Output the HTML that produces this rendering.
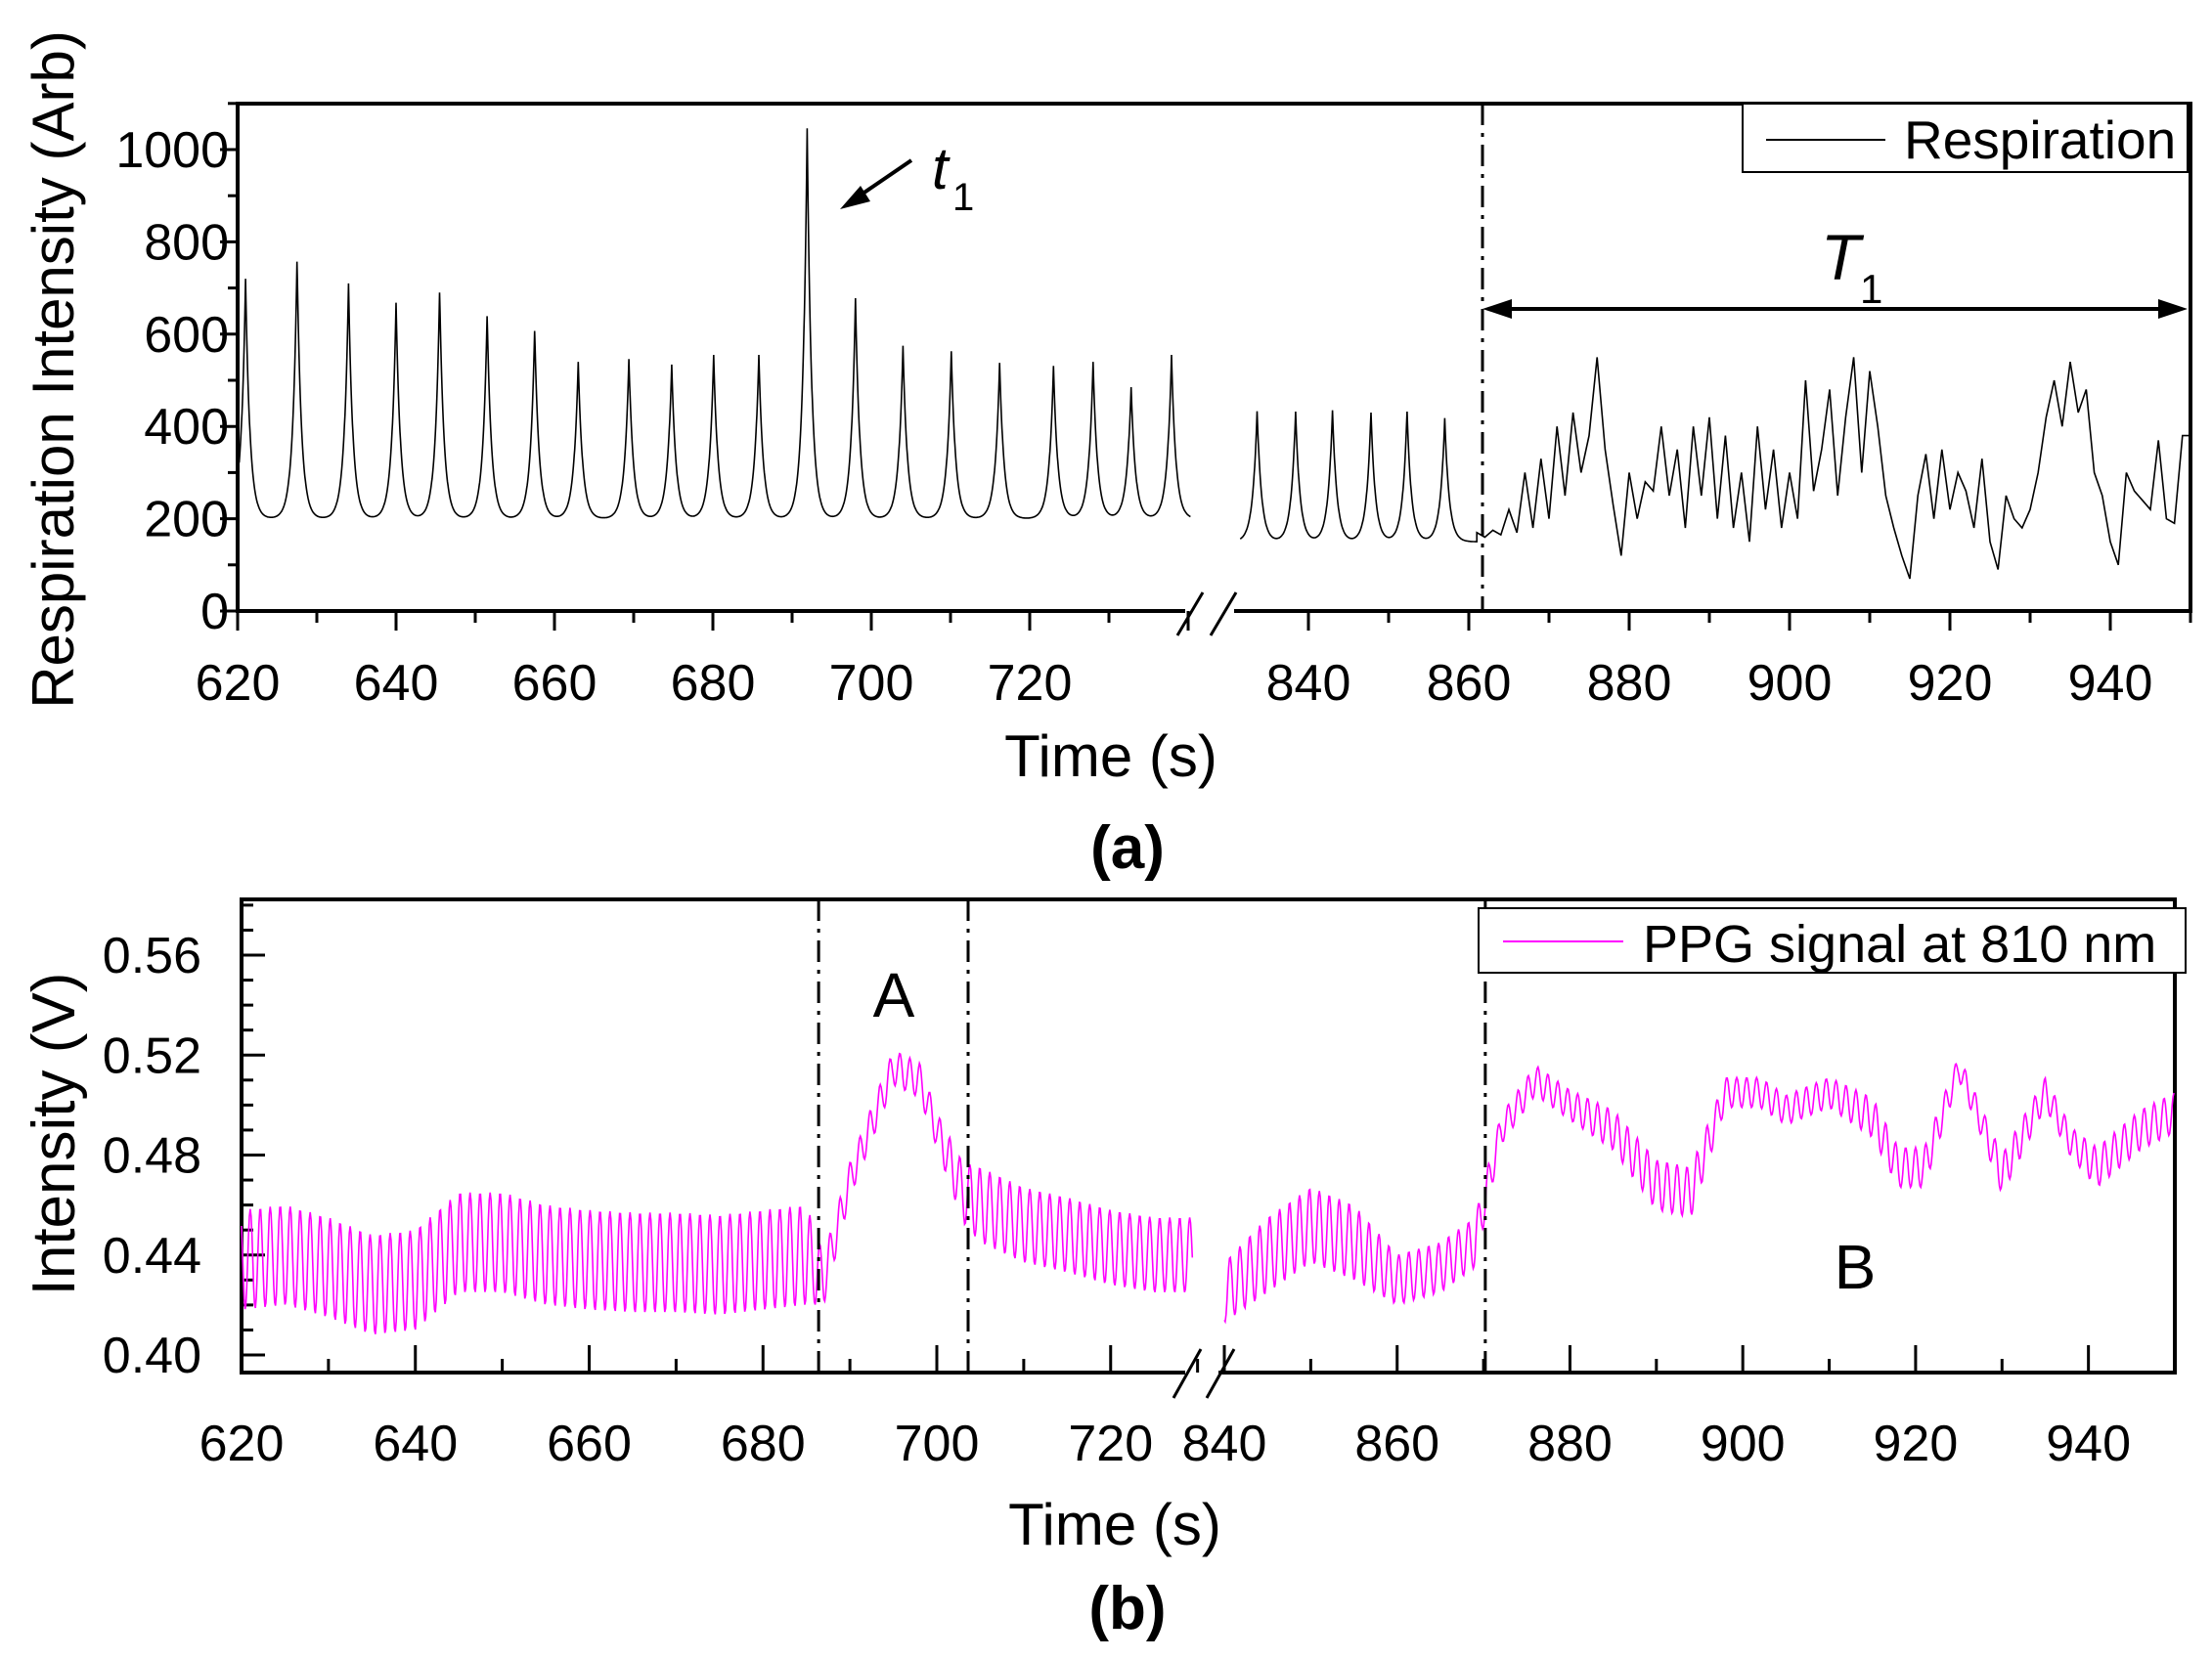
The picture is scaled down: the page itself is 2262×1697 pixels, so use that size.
<!DOCTYPE html>
<html><head><meta charset="utf-8"><style>
html,body{margin:0;padding:0;background:#fff}
svg{display:block}
text{font-family:"Liberation Sans",Arial,sans-serif;fill:#000}
</style></head><body>
<svg id="chart" width="2262" height="1697" viewBox="0 0 2262 1697" xmlns="http://www.w3.org/2000/svg">
<g id="pa"></g>
<g id="pb"></g>
</svg>
<script>
// ---------- Panel (a) data ----------
const respPeakTimesL = [621,627.5,634,640,645.5,651.5,657.5,663,669.4,674.8,680.1,685.8,691.9,698,704,710.1,716.2,723,728,732.8,737.9];
const respPeakValsL  = [720,757,710,668,690,639,607,540,546,534,555,555,1046,678,575,563,538,531,540,485,555];
const respPeakTimesR = [833.6,838.4,843,847.8,852.3,857];
const respPeakValsR  = [433,432,435,430,432,418];
const respChaosTimes = [861,862,863,864,865,866,867,868,869,870,871,872,873,874,875,876,877,878,879,880,881,882,883,884,885,886,887,888,889,890,891,892,893,894,895,896,897,898,899,900,901,902,903,904,905,906,907,908,909,910,911,912,913,914,915,916,917,918,919,920,921,922,923,924,925,926,927,928,929,930,931,932,933,934,935,936,937,938,939,940,941,942,943,944,945,946,947,948,949,950];
const respChaosVals  = [170,160,175,165,220,170,300,180,330,200,400,250,430,300,380,550,350,230,120,300,200,280,260,400,250,350,180,400,250,420,200,380,180,300,150,400,220,350,180,300,200,500,260,350,480,250,420,550,300,520,400,250,180,120,70,250,340,200,350,220,300,260,180,330,150,90,250,200,180,220,300,420,500,400,540,430,480,300,250,150,100,300,260,240,220,370,200,190,380,380];
const aXTicksL = [620,640,660,680,700,720];
const aXTicksR = [840,860,880,900,920,940];
const aYTicks = [0,200,400,600,800,1000];

// ---------- Panel (b) data ----------
const ppgTimesL = [620,625,630,635,640,645,650,655,660,665,670,675,680,685,687,690,695,698,700,703,705,710,715,720,725,730];
const ppgMidL   = [0.438,0.44,0.435,0.428,0.43,0.445,0.445,0.44,0.438,0.437,0.437,0.436,0.438,0.44,0.43,0.47,0.515,0.51,0.49,0.465,0.46,0.452,0.448,0.443,0.44,0.44];
const ppgAmpL   = [0.02,0.02,0.02,0.02,0.02,0.02,0.02,0.02,0.02,0.02,0.02,0.02,0.02,0.02,0.01,0.007,0.007,0.007,0.007,0.012,0.015,0.015,0.015,0.015,0.015,0.015];
const ppgTimesR = [840,845,850,855,860,865,869,872,876,880,885,890,894,898,902,905,910,915,918,921,925,928,930,935,938,941,946,950];
const ppgMidR   = [0.425,0.44,0.452,0.445,0.43,0.435,0.445,0.49,0.51,0.5,0.49,0.468,0.465,0.505,0.505,0.498,0.505,0.495,0.475,0.475,0.515,0.49,0.472,0.505,0.485,0.475,0.49,0.497];
const ppgAmpR   = [0.012,0.015,0.015,0.015,0.01,0.01,0.01,0.006,0.006,0.006,0.008,0.01,0.01,0.006,0.006,0.006,0.006,0.008,0.008,0.008,0.005,0.006,0.008,0.006,0.006,0.008,0.008,0.008];
const bXTicksL = [620,640,660,680,700,720];
const bXTicksR = [840,860,880,900,920,940];
const bYTicks = [0.40,0.44,0.48,0.52,0.56];

const NS="http://www.w3.org/2000/svg";
function mk(parent,tag,attrs,txt){const e=document.createElementNS(NS,tag);for(const k in attrs)e.setAttribute(k,attrs[k]);if(txt!==undefined)e.textContent=txt;parent.appendChild(e);return e;}
function interp(ts,vs,t){if(t<=ts[0])return vs[0];for(let i=1;i<ts.length;i++){if(t<=ts[i]){const f=(t-ts[i-1])/(ts[i]-ts[i-1]);return vs[i-1]+f*(vs[i]-vs[i-1]);}}return vs[vs.length-1];}
const TF=52;

// ===== Panel A =====
const pa=document.getElementById('pa');
const A={l:243,r:2240,t:106,b:625};
function axL(t){return 243+(t-620)*(1215-243)/120;}
function axR(t){return 1256+(t-830)*(2240-1256)/120;}
function ay(v){return 625-v*0.472;}
let e;
e=mk(pa,'path',{d:`M${A.l},${A.b} V${A.t} H${A.r} V${A.b}`,fill:'none',stroke:'#000','stroke-width':4});

e=mk(pa,'line',{x1:A.l-2,y1:A.b,x2:1212,y2:A.b,stroke:'#000','stroke-width':4});

e=mk(pa,'line',{x1:1262,y1:A.b,x2:A.r+2,y2:A.b,stroke:'#000','stroke-width':4});

e=mk(pa,'path',{d:`M1204,650 L1230,606 M1238,650 L1264,606`,stroke:'#000','stroke-width':3,fill:'none'});

for(let t=620;t<=740;t+=10){const x=axL(t);const maj=t%20===0;mk(pa,'line',{x1:x,y1:A.b,x2:x,y2:A.b+(maj?20:12),stroke:'#000','stroke-width':3});}
for(let t=840;t<=950;t+=10){const x=axR(t);const maj=t%20===0;mk(pa,'line',{x1:x,y1:A.b,x2:x,y2:A.b+(maj?20:12),stroke:'#000','stroke-width':3});}
aXTicksL.forEach(t=>{e=mk(pa,'text',{x:axL(t),y:716,'font-size':TF,'text-anchor':'middle'},t);});
aXTicksR.forEach(t=>{e=mk(pa,'text',{x:axR(t),y:716,'font-size':TF,'text-anchor':'middle'},t);});
for(let v=0;v<=1100;v+=100){const y=ay(v);mk(pa,'line',{x1:A.l,y1:y,x2:A.l-(v%200===0?18:10),y2:y,stroke:'#000','stroke-width':3});}
aYTicks.forEach(v=>{e=mk(pa,'text',{x:234,y:ay(v)+18,'font-size':TF,'text-anchor':'end'},v);});
e=mk(pa,'text',{x:0,y:0,'font-size':60,'text-anchor':'middle',transform:'translate(75,378) rotate(-90)'},'Respiration Intensity (Arb)');

e=mk(pa,'text',{x:1136,y:794,'font-size':60,'text-anchor':'middle'},'Time (s)');

e=mk(pa,'text',{x:1153,y:888,'font-size':62,'font-weight':'bold','text-anchor':'middle'},'(a)');

function peakSum(t,pts,pvs,base){let v=base;for(let i=0;i<pts.length;i++){const d=Math.abs(t-pts[i]);v+=(pvs[i]-base)*Math.exp(-d/0.55);}return v;}
let d='';
for(let t=620.2;t<=740.3;t+=0.05){d+=(d?'L':'M')+axL(t).toFixed(1)+','+ay(peakSum(t,respPeakTimesL,respPeakValsL,200)).toFixed(1);}
e=mk(pa,'path',{d:d,fill:'none',stroke:'#000','stroke-width':1.6});

d='';
for(let t=831.5;t<=861;t+=0.05){d+=(d?'L':'M')+axR(t).toFixed(1)+','+ay(peakSum(t,respPeakTimesR,respPeakValsR,150)).toFixed(1);}
for(let i=0;i<respChaosTimes.length;i++){d+='L'+axR(respChaosTimes[i]).toFixed(1)+','+ay(respChaosVals[i]).toFixed(1);}
e=mk(pa,'path',{d:d,fill:'none',stroke:'#000','stroke-width':1.6});

e=mk(pa,'line',{x1:1516,y1:A.t,x2:1516,y2:A.b,stroke:'#000','stroke-width':3,'stroke-dasharray':'22,8,4,8'});

e=mk(pa,'rect',{x:1782,y:106,width:455,height:70,fill:'#fff',stroke:'#000','stroke-width':2});

mk(pa,'line',{x1:1806,y1:143,x2:1928,y2:143,stroke:'#000','stroke-width':2});
e=mk(pa,'text',{x:1947,y:162,'font-size':55},'Respiration');

e=mk(pa,'line',{x1:932,y1:164,x2:872,y2:205,stroke:'#000','stroke-width':4});

mk(pa,'polygon',{points:'859,214 880,190 890,206',fill:'#000'});
e=mk(pa,'text',{x:953,y:193,'font-size':60,'font-style':'italic','font-family':'Liberation Serif,serif'},'t');

mk(pa,'text',{x:974,y:215,'font-size':40,'font-family':'Liberation Serif,serif'},'1');
e=mk(pa,'line',{x1:1530,y1:316,x2:2222,y2:316,stroke:'#000','stroke-width':4});

mk(pa,'polygon',{points:'1516,316 1546,306 1546,326',fill:'#000'});
mk(pa,'polygon',{points:'2237,316 2207,306 2207,326',fill:'#000'});
e=mk(pa,'text',{x:1862,y:286,'font-size':66,'font-style':'italic','font-family':'Liberation Serif,serif'},'T');

mk(pa,'text',{x:1902,y:310,'font-size':42,'font-family':'Liberation Serif,serif'},'1');

// ===== Panel B =====
const pb=document.getElementById('pb');
const B={l:247,r:2224,t:920,b:1404};
function bxL(t){return 247+(t-620)*(958-247)/80;}
function bxR(t){return 1252+(t-840)*(2224-1252)/110;}
function by(v){return 1386-(v-0.40)*(1386-977)/0.16;}
e=mk(pb,'path',{d:`M${B.l},${B.b} V${B.t} H${B.r} V${B.b}`,fill:'none',stroke:'#000','stroke-width':4});

e=mk(pb,'line',{x1:B.l-2,y1:B.b,x2:1212,y2:B.b,stroke:'#000','stroke-width':4});

e=mk(pb,'line',{x1:1246,y1:B.b,x2:B.r+2,y2:B.b,stroke:'#000','stroke-width':4});

e=mk(pb,'path',{d:`M1200,1430 L1228,1380 M1234,1430 L1262,1380`,stroke:'#000','stroke-width':3,fill:'none'});

for(let t=620;t<=730;t+=10){const x=bxL(t);const maj=t%20===0;mk(pb,'line',{x1:x,y1:B.b,x2:x,y2:B.b-(maj?28:14),stroke:'#000','stroke-width':3});}
for(let t=840;t<=950;t+=10){const x=bxR(t);const maj=t%20===0;mk(pb,'line',{x1:x,y1:B.b,x2:x,y2:B.b-(maj?28:14),stroke:'#000','stroke-width':3});}
bXTicksL.forEach(t=>{e=mk(pb,'text',{x:bxL(t),y:1494,'font-size':TF,'text-anchor':'middle'},t);});
bXTicksR.forEach(t=>{e=mk(pb,'text',{x:bxR(t),y:1494,'font-size':TF,'text-anchor':'middle'},t);});
for(let v=0.39;v<=0.585;v+=0.01){const y=by(v);if(y<B.t||y>B.b)continue;const maj=Math.abs(Math.round(v*100)%4)===0;mk(pb,'line',{x1:B.l,y1:y,x2:B.l+(maj?24:12),y2:y,stroke:'#000','stroke-width':3});}
bYTicks.forEach(v=>{e=mk(pb,'text',{x:206,y:by(v)+18,'font-size':TF,'text-anchor':'end'},v.toFixed(2));});
e=mk(pb,'text',{x:0,y:0,'font-size':62,'text-anchor':'middle',transform:'translate(76,1160) rotate(-90)'},'Intensity (V)');

e=mk(pb,'text',{x:1140,y:1580,'font-size':60,'text-anchor':'middle'},'Time (s)');

e=mk(pb,'text',{x:1153,y:1666,'font-size':62,'font-weight':'bold','text-anchor':'middle'},'(b)');

function ppgPath(t0,t1,ts,ms,as,xf){let s='';for(let t=t0;t<=t1;t+=0.1){const v=interp(ts,ms,t)+interp(ts,as,t)*Math.cos(2*Math.PI*t/1.15);s+=(s?'L':'M')+xf(t).toFixed(1)+','+by(v).toFixed(1);}return s;}
e=mk(pb,'path',{d:ppgPath(620,729.5,ppgTimesL,ppgMidL,ppgAmpL,bxL),fill:'none',stroke:'#ff00ff','stroke-width':1.6});

e=mk(pb,'path',{d:ppgPath(840,950,ppgTimesR,ppgMidR,ppgAmpR,bxR),fill:'none',stroke:'#ff00ff','stroke-width':1.6});

[bxL(686.4),bxL(703.6),bxR(870.2)].forEach((x,i)=>{e=mk(pb,'line',{x1:x,y1:B.t,x2:x,y2:B.b,stroke:'#000','stroke-width':3,'stroke-dasharray':'22,8,4,8'});});
e=mk(pb,'rect',{x:1512,y:929,width:723,height:66,fill:'#fff',stroke:'#000','stroke-width':2});

mk(pb,'line',{x1:1537,y1:963,x2:1660,y2:963,stroke:'#ff00ff','stroke-width':2});
e=mk(pb,'text',{x:1680,y:984,'font-size':54},'PPG signal at 810 nm');

e=mk(pb,'text',{x:914,y:1040,'font-size':64,'text-anchor':'middle'},'A');

e=mk(pb,'text',{x:1897,y:1318,'font-size':64,'text-anchor':'middle'},'B');

</script>
</body></html>
